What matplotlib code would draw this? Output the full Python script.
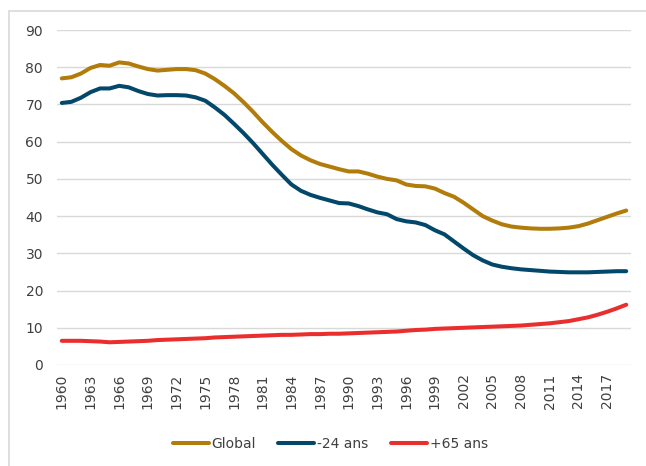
import matplotlib
matplotlib.use("Agg")
import matplotlib.pyplot as plt
from matplotlib.patches import Rectangle

years = list(range(1960, 2020))
global_vals = [77.0, 77.3, 78.3, 79.8, 80.6, 80.4, 81.3, 81.0, 80.2, 79.5,
               79.1, 79.3, 79.5, 79.5, 79.2, 78.3, 76.8, 75.0, 73.0, 70.6,
               68.0, 65.2, 62.6, 60.2, 58.0, 56.3, 55.0, 54.0, 53.3, 52.6,
               52.0, 52.0, 51.4, 50.6, 50.0, 49.6, 48.5, 48.1, 48.0, 47.4,
               46.2, 45.2, 43.6, 41.8, 40.0, 38.8, 37.8, 37.2, 36.9, 36.7,
               36.6, 36.6, 36.7, 36.9, 37.3, 38.0, 38.9, 39.8, 40.7, 41.5]
young_vals = [70.4, 70.7, 71.8, 73.3, 74.3, 74.3, 75.0, 74.6, 73.6, 72.8,
              72.4, 72.5, 72.5, 72.4, 71.9, 71.0, 69.2, 67.2, 64.8, 62.3,
              59.6, 56.7, 53.8, 51.1, 48.5, 46.8, 45.7, 44.9, 44.2, 43.5,
              43.4, 42.7, 41.8, 41.0, 40.5, 39.2, 38.6, 38.3, 37.6, 36.2,
              35.1, 33.2, 31.3, 29.5, 28.1, 27.0, 26.4, 26.0, 25.7, 25.5,
              25.3, 25.1, 25.0, 24.9, 24.9, 24.9, 25.0, 25.1, 25.2, 25.2]
old_vals = [6.5, 6.5, 6.5, 6.4, 6.3, 6.1, 6.2, 6.3, 6.4, 6.5,
            6.7, 6.8, 6.9, 7.0, 7.1, 7.2, 7.4, 7.5, 7.6, 7.7,
            7.8, 7.9, 8.0, 8.1, 8.1, 8.2, 8.3, 8.3, 8.4, 8.4,
            8.5, 8.6, 8.7, 8.8, 8.9, 9.0, 9.2, 9.4, 9.5, 9.7,
            9.8, 9.9, 10.0, 10.1, 10.2, 10.3, 10.4, 10.5, 10.6, 10.8,
            11.0, 11.2, 11.5, 11.8, 12.3, 12.8, 13.5, 14.3, 15.2, 16.2]
series_names = ["Global", "-24 ans", "+65 ans"]
colors = ["#B27C0A", "#03486A", "#EA2E2E"]
tick_years = list(range(1960, 2018, 3))

plt.rcParams['font.family'] = ['DejaVu Sans']
fig = plt.figure(figsize=(6.46, 4.66), dpi=100)
ax = fig.add_axes([57/646, 1-365/466, (631-57)/646, (365-30)/466])

x = list(range(len(years)))
for vals, name, c in zip([global_vals, young_vals, old_vals], series_names, colors):
    ax.plot(x, vals, color=c, lw=2.9, label=name, solid_capstyle='round', zorder=3)

ax.set_xlim(-0.5, len(years) - 0.5)
ax.set_ylim(0, 90)
ax.set_yticks(range(0, 91, 10))
ax.grid(axis='y', color='#D9D9D9', lw=1)
ax.set_axisbelow(True)
for s in ax.spines.values():
    s.set_visible(False)
ax.set_xticks([years.index(y) for y in tick_years])
ax.set_xticklabels([str(y) for y in tick_years], rotation=90)
ax.tick_params(axis='both', length=0, labelsize=10, colors='#404040')
ax.tick_params(axis='y', pad=10)
ax.tick_params(axis='x', pad=6)

leg = ax.legend(loc='center', bbox_to_anchor=(0.476, -0.235), ncol=3, frameon=False,
                fontsize=10, handlelength=2.6, columnspacing=1.6, handletextpad=0.2)
for t in leg.get_texts():
    t.set_color('#404040')

fig.patches.append(Rectangle((9/646, -0.1), 1.2, 1 - 11/466 + 0.1, transform=fig.transFigure,
                             fill=False, edgecolor='#D9D9D9', lw=1.2))

fig.savefig("out.png", dpi=100)
